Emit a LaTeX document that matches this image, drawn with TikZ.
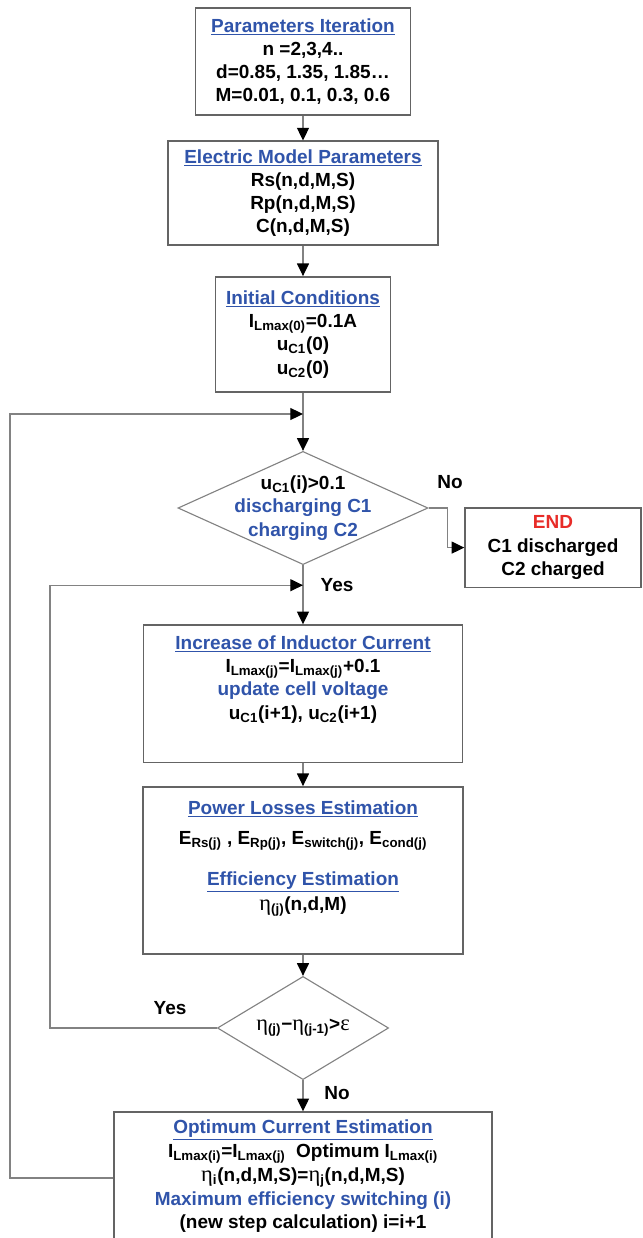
\documentclass[tikz,border=0pt]{standalone}
\usepackage{fontspec}
\setmainfont{Liberation Sans}
\newfontfamily\grkfont{Liberation Serif}
\usepackage{xcolor}
\usepackage{tikz}
\usetikzlibrary{arrows.meta, positioning, shapes.geometric}
\definecolor{TitleBlue}{RGB}{48, 84, 170}
\definecolor{EndRed}{RGB}{232, 44, 40}
\definecolor{EdgeGray}{RGB}{130, 130, 130}
\definecolor{BoxGray}{RGB}{100, 100, 100}
\newcommand{\ttl}[1]{\textcolor{TitleBlue}{\underline{#1}}}
\newcommand{\sbs}[1]{\textsubscript{#1}}
\newcommand{\eeta}{{\grkfont\mdseries\fontsize{16}{16}\selectfont η}}

\begin{document}
\begin{tikzpicture}[
  bx/.style={rectangle, draw=BoxGray, line width=1pt, fill=white,
             inner sep=0pt, align=center,
             font=\fontsize{13.5}{16.5}\selectfont\bfseries},
  tx/.style={inner sep=0pt, align=center,
             font=\fontsize{13.5}{16.5}\selectfont\bfseries},
  dc/.style={diamond, draw=EdgeGray, line width=0.8pt, inner sep=0pt},
  eg/.style={draw=EdgeGray, line width=0.9pt},
  ar/.style={eg, -{Triangle[length=9pt, width=8.5pt, color=black]}},
  lb/.style={font=\fontsize{13.5}{16}\selectfont\bfseries}
]
  \useasboundingbox (-7.575,0) rectangle (8.475,-30.95);

  \node[bx, minimum width=5.38cm, minimum height=2.68cm] (par) at (0,-1.54)
    {\ttl{Parameters Iteration}\\ n =2,3,4..\\ d=0.85, 1.35, 1.85…\\ M=0.01, 0.1, 0.3, 0.6};
  \node[bx, minimum width=6.75cm, minimum height=2.6cm] (emp) at (0,-4.83)
    {\ttl{Electric Model Parameters}\\ Rs(n,d,M,S)\\ Rp(n,d,M,S)\\ C(n,d,M,S)};
  \node[bx, minimum width=4.38cm, minimum height=2.88cm] (ini) at (0,-8.36)
    {\ttl{Initial Conditions}\\ I\sbs{Lmax(0)}=0.1A\\ u\sbs{C1}(0)\\ u\sbs{C2}(0)};

  \node[dc, minimum width=6.25cm, minimum height=2.83cm] (chk) at (0,-12.7) {};
  \node[tx] (chkt) at (chk)
    {u\sbs{C1}(i)>0.1\\ \textcolor{TitleBlue}{discharging C1}\\ \textcolor{TitleBlue}{charging C2}};
  \node[bx, minimum width=4.4cm, minimum height=1.98cm] (fin) at (6.25,-13.69)
    {\textcolor{EndRed}{END}\\ C1 discharged\\ C2 charged};

  \node[bx, minimum width=7.98cm, minimum height=3.43cm] (inc) at (0,-17.34) {};
  \node[tx, below=0.28cm of inc.north] (inct)
    {\ttl{Increase of Inductor Current}\\ I\sbs{Lmax(j)}=I\sbs{Lmax(j)}+0.1\\
     \textcolor{TitleBlue}{update cell voltage}\\ u\sbs{C1}(i+1), u\sbs{C2}(i+1)};

  \node[bx, minimum width=8cm, minimum height=4.18cm] (los) at (0,-21.76) {};
  \node[tx, below=0.35cm of los.north] (lost)
    {\ttl{Power Losses Estimation}\\[5pt]
     E\sbs{Rs(j)} , E\sbs{Rp(j)}, E\sbs{switch(j)}, E\sbs{cond(j)}\\[13pt]
     \ttl{Efficiency Estimation}\\[1pt] \eeta\sbs{(j)}(n,d,M)};

  \node[dc, minimum width=4.28cm, minimum height=2.58cm] (eff) at (0,-25.7) {};
  \node[tx] (efft) at (eff)
    {\eeta\sbs{(j)}−\eeta\sbs{(j-1)}>{\grkfont\mdseries\fontsize{16}{16}\selectfont ε}};

  \node[bx, minimum width=9.45cm, minimum height=3.3cm] (opt) at (0,-29.45) {};
  \node[tx, below=0.2cm of opt.north,
        font=\fontsize{13.5}{17}\selectfont\bfseries] (optt)
    {\ttl{Optimum Current Estimation}\\
     I\sbs{Lmax(i)}=I\sbs{Lmax(j)}~~Optimum I\sbs{Lmax(i)}\\
     \eeta\sbs{i}(n,d,M,S)=\eeta\sbs{j}(n,d,M,S)\\
     \textcolor{TitleBlue}{Maximum efficiency switching (i)}\\
     (new step calculation) i=i+1};

  % loop joints on the main line
  \coordinate (ja) at (0,-10.35);
  \coordinate (jb) at (0,-14.63);
  \coordinate (oc) at (-7.325,-10.35);
  \coordinate (ic) at (-6.325,-14.63);

  \draw[ar] (par) -- (emp);
  \draw[ar] (emp) -- (ini);
  \draw[ar] (ini) -- (chk);
  \draw[ar] (chk) -- (inc);
  \draw[ar] (inc) -- (los);
  \draw[ar] (los) -- (eff);
  \draw[ar] (eff) -- (opt);
  \draw[ar] (chk.east) -- ++(0.475,0) |- (fin.west);
  \draw[ar] (eff.west) -| (ic) -- (jb);
  \draw[ar] (opt.west) -| (oc) -- (ja);

  \node[lb] (no1) at (3.675,-12.05) {No};
  \node[lb] (yes1) at (0.85,-14.63) {Yes};
  \node[lb] (yes2) at (-3.325,-25.2) {Yes};
  \node[lb] (no2) at (0.85,-27.33) {No};
\end{tikzpicture}
\end{document}
